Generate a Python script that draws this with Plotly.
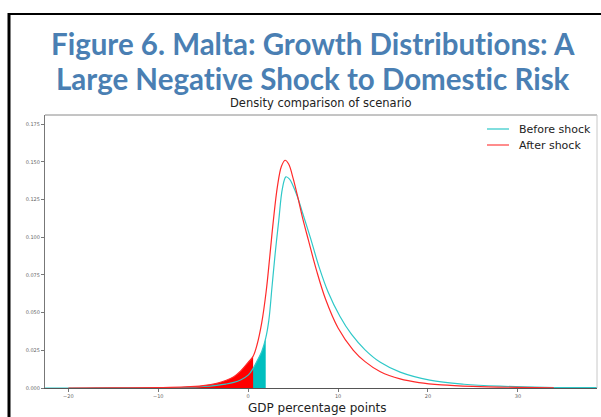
import numpy as np
import plotly.graph_objects as go

# Density estimates of GDP growth (percentage points)
x_before = [-22.6, -18.0, -14.0, -10.0, -7.0, -5.0, -3.5, -2.5, -1.6, -0.8, 0.0, 0.55, 1.0, 1.5,
            1.95, 2.3, 2.65, 3.0, 3.4, 3.8, 4.2, 4.6, 5.0, 5.5, 6.0, 6.9, 7.9, 8.9, 10.2, 11.5,
            13.0, 14.7, 16.9, 20.2, 24.0, 28.0, 33.0, 38.8]
y_before = [0.0000, 0.0000, 0.0001, 0.0002, 0.0005, 0.0010, 0.0018, 0.0026, 0.0037, 0.0055, 0.0085,
            0.0130, 0.0180, 0.0240, 0.0330, 0.0450, 0.0670, 0.0890, 0.1110, 0.1320, 0.1400, 0.1385,
            0.1340, 0.1265, 0.1170, 0.1000, 0.0800, 0.0635, 0.0476, 0.0355, 0.0253, 0.0170, 0.0105,
            0.0052, 0.0025, 0.0012, 0.0005, 0.0002]

x_after = [-20.0, -15.0, -10.0, -7.0, -5.0, -3.5, -2.5, -1.6, -0.8, 0.0, 0.55, 1.0, 1.5, 2.0, 2.4,
           2.8, 3.25, 3.7, 4.1, 4.5, 5.0, 5.5, 6.0, 6.7, 7.6, 8.6, 10.0, 11.7, 13.0, 14.7, 16.9,
           19.0, 21.5, 25.0, 30.0, 34.0]
y_after = [0.0000, 0.0001, 0.0003, 0.0007, 0.0016, 0.0031, 0.0050, 0.0075, 0.0115, 0.0170, 0.0210,
           0.0290, 0.0430, 0.0640, 0.0870, 0.1110, 0.1335, 0.1470, 0.1510, 0.1485, 0.1390, 0.1270,
           0.1140, 0.0980, 0.0780, 0.0590, 0.0398, 0.0250, 0.0175, 0.0108, 0.0060, 0.0036, 0.0021,
           0.0011, 0.0004, 0.0001]

# Lower-tail cut-offs (shaded areas)
cut_before = 1.95
cut_after = 0.55

x_ticks = [-20, -10, 0, 10, 20, 30]
y_ticks = [0.000, 0.025, 0.050, 0.075, 0.100, 0.125, 0.150, 0.175]

CYAN = "#00bfbf"
RED = "#ff0000"


def tail(xs, ys, cut):
    xs = np.asarray(xs)
    ys = np.asarray(ys)
    keep = xs < cut
    return (np.append(xs[keep], cut), np.append(ys[keep], np.interp(cut, xs, ys)))


fig = go.Figure()

tx, ty = tail(x_before, y_before, cut_before)
fig.add_trace(go.Scatter(x=tx, y=ty, mode="lines", fill="tozeroy", fillcolor=CYAN,
                         line=dict(width=0, color=CYAN, shape="spline"), hoverinfo="skip"))
tx, ty = tail(x_after, y_after, cut_after)
fig.add_trace(go.Scatter(x=tx, y=ty, mode="lines", fill="tozeroy", fillcolor=RED,
                         line=dict(width=0, color=RED, shape="spline"), hoverinfo="skip"))

fig.add_trace(go.Scatter(x=x_before, y=y_before, mode="lines", name="Before shock",
                         line=dict(color="#2ec8c8", width=1.2, shape="spline")))
fig.add_trace(go.Scatter(x=x_after, y=y_after, mode="lines", name="After shock",
                         line=dict(color="#ff2a2a", width=1.2, shape="spline")))

W, H = 601, 417
L, R, T, B = 45, 4, 115, 29
pw, ph = W - L - R, H - T - B


def px(xp):
    return (xp - L) / pw


def py(yp):
    return (H - B - yp) / ph


shapes = [
    # outer frame of the figure box
    dict(type="line", xref="paper", yref="paper", x0=px(9), x1=px(601), y0=py(14), y1=py(14),
         line=dict(color="black", width=2)),
    dict(type="line", xref="paper", yref="paper", x0=px(9), x1=px(9), y0=py(13), y1=py(417),
         line=dict(color="black", width=3)),
    # top and right spines of the axes
    dict(type="line", xref="paper", yref="paper", x0=0, x1=1, y0=1, y1=1,
         line=dict(color="#8a8a8a", width=1)),
    dict(type="line", xref="paper", yref="paper", x0=1, x1=1, y0=0, y1=1,
         line=dict(color="#c8c8c8", width=1)),
    # legend samples
    dict(type="line", xref="paper", yref="paper", x0=px(487), x1=px(509), y0=py(129), y1=py(129),
         line=dict(color="#2ec8c8", width=1.2)),
    dict(type="line", xref="paper", yref="paper", x0=px(487), x1=px(509), y0=py(145), y1=py(145),
         line=dict(color="#ff4040", width=1.2)),
]

# zero-width non-joiner keeps "t" and "i" as separate glyphs
ZWNJ = "\u200c"
title_font = dict(family="Lato", size=29.5, color="#4a7fb3")
annotations = [
    dict(text=f"<b>Figure 6. Malta: Growth Distribut{ZWNJ}ions: A</b>", x=px(313), y=py(43),
         font=title_font),
    dict(text=f"<b>Large Negat{ZWNJ}ive Shock to Domest{ZWNJ}ic Risk</b>", x=px(313), y=py(78),
         font=title_font),
    dict(text="Density comparison of scenario", x=px(321), y=py(103),
         font=dict(family="DejaVu Sans", size=11.5, color="#222")),
    dict(text="GDP percentage points", x=px(317), y=py(408),
         font=dict(family="DejaVu Sans", size=12, color="#222")),
    dict(text="Before shock", x=px(517), y=py(129), xanchor="left",
         font=dict(family="DejaVu Sans", size=11, color="#222")),
    dict(text="After shock", x=px(517), y=py(145), xanchor="left",
         font=dict(family="DejaVu Sans", size=11, color="#222")),
]
for a in annotations:
    a.setdefault("xanchor", "center")
    a.update(xref="paper", yref="paper", yanchor="middle", showarrow=False)

tick_font = dict(family="DejaVu Sans", size=5, color="#666")
fig.update_layout(
    width=W, height=H, margin=dict(l=L, r=R, t=T, b=B),
    paper_bgcolor="white", plot_bgcolor="white", showlegend=False,
    shapes=shapes, annotations=annotations,
    xaxis=dict(range=[-22.6, 38.8], tickvals=x_ticks, showgrid=False, zeroline=False,
               showline=True, linecolor="#555", linewidth=1.3, ticks="outside", ticklen=3,
               tickcolor="#777", tickfont=tick_font),
    yaxis=dict(range=[0, 0.181], tickvals=y_ticks, tickformat=".3f", showgrid=False,
               zeroline=False, showline=True, linecolor="#777", linewidth=1, ticks="outside",
               ticklen=3, tickcolor="#777", tickfont=tick_font),
)

fig.write_html("out.html")
